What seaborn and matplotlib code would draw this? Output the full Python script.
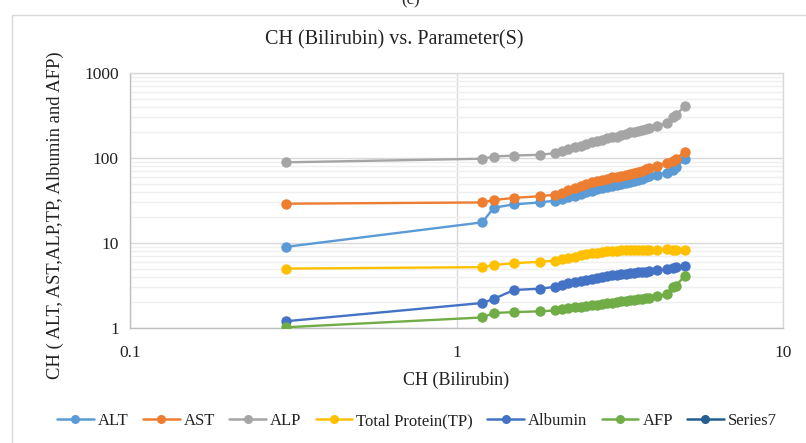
import numpy as np
import pandas as pd
import seaborn as sns
import matplotlib
matplotlib.use("Agg")
import matplotlib.pyplot as plt
from matplotlib.lines import Line2D
from matplotlib.patches import Rectangle
from matplotlib.ticker import LogLocator, FixedLocator, NullFormatter

# CH (Bilirubin) values on the x axis
bilirubin = [0.3, 1.2, 1.3, 1.5, 1.8, 2.0, 2.1, 2.2, 2.3, 2.4, 2.5, 2.6, 2.7, 2.8, 2.9,
             3.0, 3.1, 3.2, 3.3, 3.4, 3.5, 3.6, 3.7, 3.8, 3.9, 4.1, 4.4, 4.6, 4.7, 5.0]

alt = [9.0, 17.5, 26, 28.5, 30, 31.5, 32.5, 34.5, 36, 38, 39.5, 41, 42.8, 44.3, 45.7,
       47, 48.2, 49.5, 51, 52.2, 53.5, 55, 57, 59, 61, 63.5, 67, 72, 78, 97]
ast = [29, 30, 32, 34, 35.5, 37, 39, 42, 44, 47, 49.5, 51.5, 53.5, 55.5, 57,
       59, 60.5, 62, 63.5, 65, 66.5, 68, 71, 74, 77, 81, 87, 91, 98, 118]
alp = [89, 98, 104, 107, 109, 114, 120, 127, 133, 140, 148, 154, 160, 165, 171,
       175, 179, 186, 193, 200, 204, 208, 215, 221, 228, 235, 258, 305, 320, 410]
total_protein = [5.0, 5.2, 5.5, 5.8, 6.0, 6.2, 6.45, 6.6, 6.85, 7.2, 7.4, 7.55, 7.7, 7.8, 8.0,
                 8.1, 8.15, 8.2, 8.2, 8.25, 8.2, 8.25, 8.3, 8.2, 8.3, 8.3, 8.4, 8.3, 8.3, 8.3]
albumin = [1.2, 1.97, 2.2, 2.8, 2.9, 3.05, 3.2, 3.35, 3.45, 3.58, 3.7, 3.8, 3.88, 3.97, 4.05,
           4.15, 4.22, 4.3, 4.35, 4.4, 4.45, 4.52, 4.58, 4.62, 4.66, 4.75, 4.9, 5.1, 5.2, 5.3]
afp = [1.02, 1.33, 1.5, 1.54, 1.57, 1.61, 1.66, 1.71, 1.75, 1.79, 1.83, 1.86, 1.89, 1.92, 1.95,
       1.99, 2.03, 2.06, 2.09, 2.12, 2.16, 2.18, 2.2, 2.23, 2.26, 2.35, 2.5, 3.0, 3.15, 4.1]

series_names = ["ALT", "AST", "ALP", "Total Protein(TP)", "Albumin", "AFP", "Series7"]
series_values = [alt, ast, alp, total_protein, albumin, afp, []]
colors = ["#5B9BD5", "#ED7D31", "#A5A5A5", "#FFC000", "#4472C4", "#70AD47", "#255E91"]

x_ticks = [0.1, 1, 10]
x_tick_labels = ["0.1", "1", "10"]
y_ticks = [1, 10, 100, 1000]
y_tick_labels = ["1", "10", "100", "1000"]

rows = []
for name, vals in zip(series_names, series_values):
    for xv, yv in zip(bilirubin, vals):
        rows.append({"bilirubin": xv, "value": yv, "series": name})
df = pd.DataFrame(rows)

sns.set_style("white")
plt.rcParams["font.family"] = ["Liberation Serif", "DejaVu Serif"]

fig = plt.figure(figsize=(8.06, 4.43), dpi=100)
# chart area frame
fig.add_artist(Rectangle((12 / 806, -0.1), 1.0, 1 - 15 / 443 + 0.1,
                         transform=fig.transFigure, fill=False,
                         edgecolor="#D9D9D9", linewidth=1.0))
fig.text(411 / 806, 1.0, "(c)", ha="center", va="center", fontsize=12, color="#222222")

ax = fig.add_axes([130 / 806, 1 - 328 / 443, (783 - 130) / 806, (328 - 73) / 443])
ax.set_xscale("log")
ax.set_yscale("log")

palette = dict(zip(series_names[:6], colors[:6]))
sns.lineplot(data=df, x="bilirubin", y="value", hue="series", palette=palette,
             hue_order=series_names[:6], estimator=None, sort=False,
             marker="o", markersize=7.5, markeredgewidth=0, linewidth=1.7,
             legend=False, ax=ax, zorder=3)

ax.set_xlim(0.1, 10)
ax.set_ylim(1, 1000)
ax.xaxis.set_major_locator(FixedLocator(x_ticks))
ax.set_xticklabels(x_tick_labels)
ax.xaxis.set_minor_formatter(NullFormatter())
ax.xaxis.set_minor_locator(FixedLocator([]))
ax.yaxis.set_major_locator(FixedLocator(y_ticks))
ax.set_yticklabels(y_tick_labels)
ax.yaxis.set_minor_locator(LogLocator(base=10, subs=np.arange(2, 10)))
ax.yaxis.set_minor_formatter(NullFormatter())

ax.grid(True, which="major", color="#D9D9D9", linewidth=1.0, zorder=0)
ax.grid(True, which="minor", axis="y", color="#EFEFEF", linewidth=1.0, zorder=0)
for s in ax.spines.values():
    s.set_color("#D9D9D9")
    s.set_linewidth(1.0)
ax.spines["left"].set_color("#BFBFBF")
ax.spines["bottom"].set_color("#BFBFBF")
ax.tick_params(axis="y", which="both", length=0, labelsize=12.5, colors="#222222", pad=8)
ax.tick_params(axis="x", which="both", length=0, labelsize=12.5, colors="#222222", pad=12)

ax.set_xlabel("CH (Bilirubin)", fontsize=13, color="#222222", labelpad=8)
ax.set_ylabel("")
fig.text(55 / 806, 1 - 215 / 443, "CH ( ALT, AST,ALP,TP, Albumin and AFP)", rotation=90,
         ha="center", va="center", fontsize=13.4, color="#222222")
fig.text(394 / 806, 1 - 40 / 443, "CH (Bilirubin) vs. Parameter(S)", ha="center",
         va="center", fontsize=14.5, color="#222222")

handles = [Line2D([0], [0], color=c, linewidth=1.8, marker="o", markersize=6.5,
                  markeredgewidth=0) for c in colors]
fig.legend(handles, series_names, loc="center", bbox_to_anchor=(417 / 806, 1 - 421 / 443),
           ncol=7, frameon=False, fontsize=12, handlelength=2.2, handletextpad=0.25,
           columnspacing=0.85, labelcolor="#222222")

fig.savefig("out.png", dpi=100)
